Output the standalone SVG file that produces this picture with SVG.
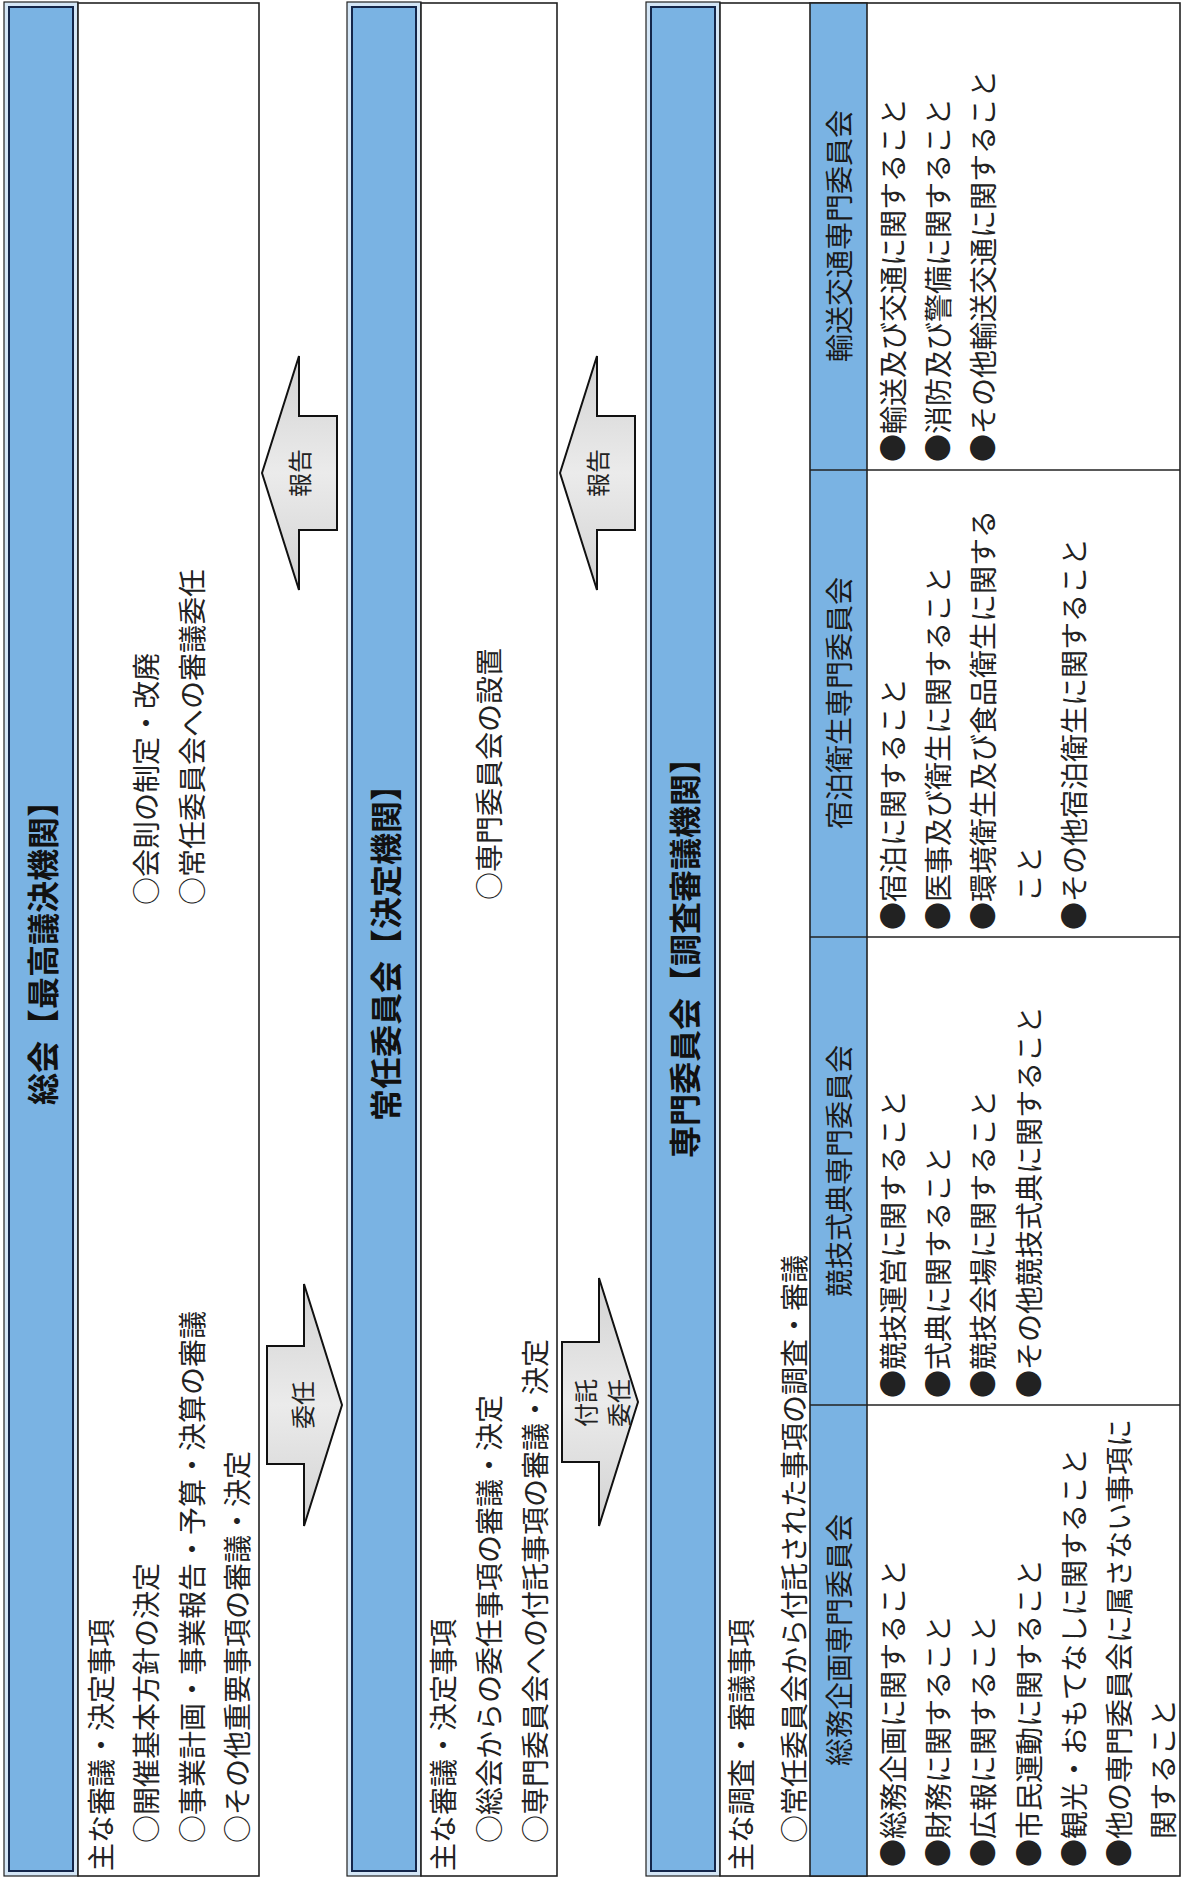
<svg xmlns="http://www.w3.org/2000/svg" width="1184" height="1878" viewBox="0 0 1184 1878">
<style>
.bg{fill:#ffffff}
.outer{fill:#d4e6f6;stroke:#222;stroke-width:1.2}
.inner{fill:#7ab3e3;stroke:#14264a;stroke-width:2}
.box{fill:#ffffff;stroke:#222;stroke-width:1.6}
.strip{fill:#7ab3e3;stroke:#222;stroke-width:1.6}
.div{stroke:#222;stroke-width:1.6;fill:none}
.arrow{fill:url(#ag);stroke:#111;stroke-width:2;stroke-linejoin:miter}
text{font-family:"Noto Sans CJK JP","Noto Sans CJK SC",sans-serif;dominant-baseline:central}
.t{font-size:28px;fill:#222}
.title{font-size:32px;font-weight:bold;fill:#111;text-anchor:middle}
.hd{font-size:28px;fill:#1a1a1a;text-anchor:middle}
.at{font-size:24px;fill:#222;text-anchor:middle}
</style>
<defs>
<linearGradient id="ag" x1="0" y1="0" x2="0" y2="1">
<stop offset="0" stop-color="#d2d2d2"/>
<stop offset="0.5" stop-color="#ebebeb"/>
<stop offset="1" stop-color="#d2d2d2"/>
</linearGradient>
</defs>
<rect class="bg" x="0" y="0" width="1184" height="1878"/>

<g id="node-soukai">
<rect class="outer" x="4" y="2" width="74" height="1874"/>
<rect class="inner" x="9" y="7" width="64" height="1864"/>
<rect class="box" x="78" y="3" width="181" height="1873"/>
<text class="title" x="41" y="945" transform="rotate(-90 41 945)">総会【最高議決機関】</text>
<text class="t" x="145" y="905" transform="rotate(-90 145 905)">○会則の制定・改廃</text>
<text class="t" x="191" y="905" transform="rotate(-90 191 905)">○常任委員会への審議委任</text>
<text class="t" x="100" y="1871" transform="rotate(-90 100 1871)">主な審議・決定事項</text>
<text class="t" x="145" y="1843" transform="rotate(-90 145 1843)">○開催基本方針の決定</text>
<text class="t" x="191" y="1843" transform="rotate(-90 191 1843)">○事業計画・事業報告・予算・決算の審議</text>
<text class="t" x="236" y="1843" transform="rotate(-90 236 1843)">○その他重要事項の審議・決定</text>
</g>

<g id="node-jonin">
<rect class="outer" x="347" y="2" width="74" height="1874"/>
<rect class="inner" x="352" y="7" width="64" height="1864"/>
<rect class="box" x="421" y="3" width="136" height="1873"/>
<text class="title" x="384" y="945" transform="rotate(-90 384 945)">常任委員会【決定機関】</text>
<text class="t" x="488" y="900" transform="rotate(-90 488 900)">○専門委員会の設置</text>
<text class="t" x="442" y="1871" transform="rotate(-90 442 1871)">主な審議・決定事項</text>
<text class="t" x="488" y="1843" transform="rotate(-90 488 1843)">○総会からの委任事項の審議・決定</text>
<text class="t" x="534" y="1843" transform="rotate(-90 534 1843)">○専門委員会への付託事項の審議・決定</text>
</g>

<g id="node-senmon">
<rect class="outer" x="646" y="2" width="74" height="1874"/>
<rect class="inner" x="651" y="7" width="64" height="1864"/>
<rect class="box" x="720" y="3" width="460" height="1873"/>
<text class="title" x="683" y="950" transform="rotate(-90 683 950)">専門委員会【調査審議機関】</text>
<text class="t" x="740" y="1871" transform="rotate(-90 740 1871)">主な調査・審議事項</text>
<text class="t" x="793" y="1843" transform="rotate(-90 793 1843)">○常任委員会から付託された事項の調査・審議</text>
<rect class="strip" x="810" y="3" width="57" height="1873"/>
<line class="div" x1="810" y1="470" x2="1180" y2="470"/>
<line class="div" x1="810" y1="937" x2="1180" y2="937"/>
<line class="div" x1="810" y1="1405" x2="1180" y2="1405"/>
</g>

<g id="node-soumu">
<text class="hd" x="838" y="1640" transform="rotate(-90 838 1640)">総務企画専門委員会</text>
<text class="t" x="892" y="1867" transform="rotate(-90 892 1867)">●総務企画に関すること</text>
<text class="t" x="937" y="1867" transform="rotate(-90 937 1867)">●財務に関すること</text>
<text class="t" x="982" y="1867" transform="rotate(-90 982 1867)">●広報に関すること</text>
<text class="t" x="1028" y="1867" transform="rotate(-90 1028 1867)">●市民運動に関すること</text>
<text class="t" x="1073" y="1867" transform="rotate(-90 1073 1867)">●観光・おもてなしに関すること</text>
<text class="t" x="1118" y="1867" transform="rotate(-90 1118 1867)">●他の専門委員会に属さない事項に</text>
<text class="t" x="1162" y="1839" transform="rotate(-90 1162 1839)">関すること</text>
</g>

<g id="node-kyogi">
<text class="hd" x="838" y="1171" transform="rotate(-90 838 1171)">競技式典専門委員会</text>
<text class="t" x="892" y="1398" transform="rotate(-90 892 1398)">●競技運営に関すること</text>
<text class="t" x="937" y="1398" transform="rotate(-90 937 1398)">●式典に関すること</text>
<text class="t" x="982" y="1398" transform="rotate(-90 982 1398)">●競技会場に関すること</text>
<text class="t" x="1028" y="1398" transform="rotate(-90 1028 1398)">●その他競技式典に関すること</text>
</g>

<g id="node-shukuhaku">
<text class="hd" x="838" y="703" transform="rotate(-90 838 703)">宿泊衛生専門委員会</text>
<text class="t" x="892" y="930" transform="rotate(-90 892 930)">●宿泊に関すること</text>
<text class="t" x="937" y="930" transform="rotate(-90 937 930)">●医事及び衛生に関すること</text>
<text class="t" x="982" y="930" transform="rotate(-90 982 930)">●環境衛生及び食品衛生に関する</text>
<text class="t" x="1028" y="902" transform="rotate(-90 1028 902)">こと</text>
<text class="t" x="1073" y="930" transform="rotate(-90 1073 930)">●その他宿泊衛生に関すること</text>
</g>

<g id="node-yuso">
<text class="hd" x="838" y="236" transform="rotate(-90 838 236)">輸送交通専門委員会</text>
<text class="t" x="892" y="462" transform="rotate(-90 892 462)">●輸送及び交通に関すること</text>
<text class="t" x="937" y="462" transform="rotate(-90 937 462)">●消防及び警備に関すること</text>
<text class="t" x="982" y="462" transform="rotate(-90 982 462)">●その他輸送交通に関すること</text>
</g>

<g id="connectors">
<g id="arrow-hokoku-1">
<polygon class="arrow" points="262,473 299,356 299,416 337,416 337,530 299,530 299,590"/>
<text class="at" x="298" y="473" transform="rotate(-90 298 473)">報告</text>
</g>
<g id="arrow-hokoku-2">
<polygon class="arrow" points="560,473 597,356 597,416 635,416 635,530 597,530 597,590"/>
<text class="at" x="596" y="473" transform="rotate(-90 596 473)">報告</text>
</g>
<g id="arrow-inin-1">
<polygon class="arrow" points="267,1346 304,1346 304,1284 342,1405 304,1526 304,1464 267,1464"/>
<text class="at" x="301" y="1405" transform="rotate(-90 301 1405)">委任</text>
</g>
<g id="arrow-inin-2">
<polygon class="arrow" points="562,1342 599,1342 599,1278 638,1402 599,1526 599,1462 562,1462"/>
<text class="at" x="584" y="1403" transform="rotate(-90 584 1403)">付託</text>
<text class="at" x="617" y="1403" transform="rotate(-90 617 1403)">委任</text>
</g>
</g>
</svg>
